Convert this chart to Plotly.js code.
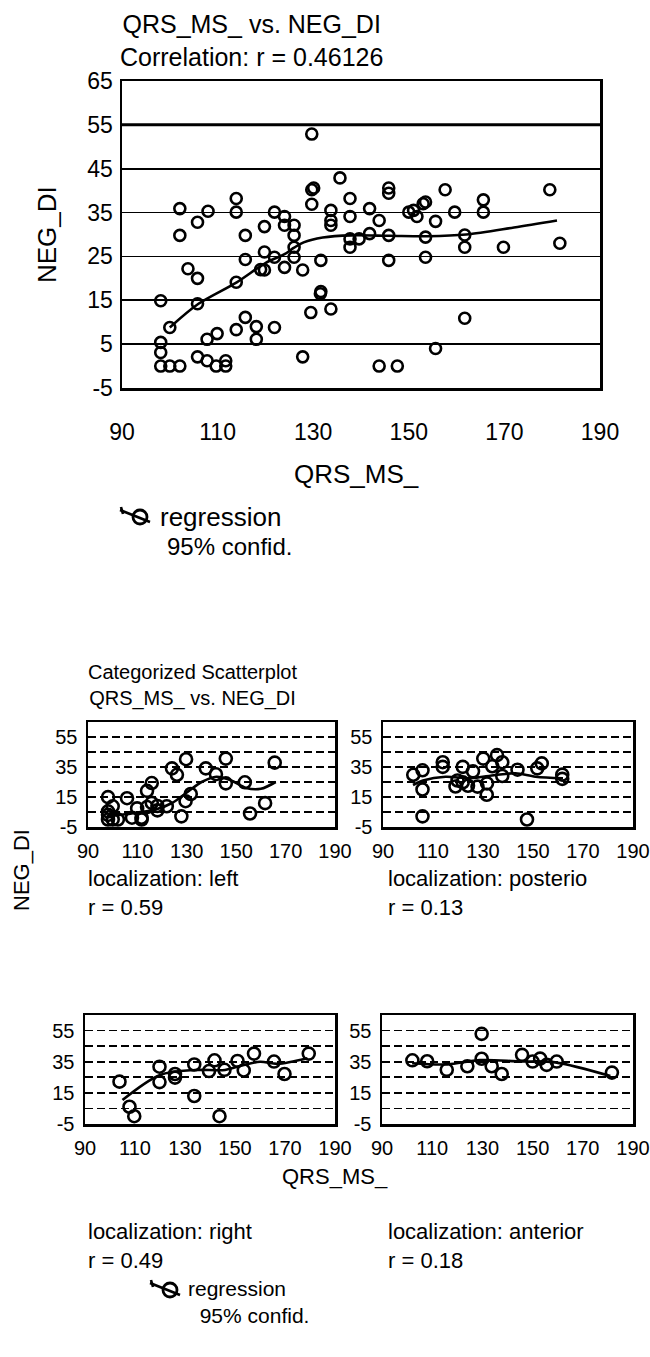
<!DOCTYPE html>
<html>
<head>
<meta charset="utf-8">
<script src="https://cdn.plot.ly/plotly-3.0.1.min.js"></script>
<style>html,body{margin:0;padding:0;background:#fff;}#chart{width:650px;height:1357px;}</style>
</head>
<body>
<div id="chart"></div>
<script>
// ---------- data ----------
const leftX = [98.1,100,98.1,98.1,98.1,100,102.1,105.8,107.8,109.9,111.7,111.7,113.9,113.9,115.8,115.8,118.1,118.1,121.9,124,126,127.8,129.5,129.7,131.6,137.7,141.8,145.8,145.8,153.5,155.6,161.7,165.6];
const leftY = [14.9,8.8,5.4,3.1,0,0,0,14.2,1.2,7.4,1.2,0,8.3,19.1,11.1,24.3,9.0,6.1,8.8,34.1,29.8,2.1,12.2,40.2,17,34.1,30.2,40.6,24.1,24.8,4.0,10.9,37.9];

const postX = [105.8,113.9,113.9,121.9,102.1,105.8,119.8,121.9,105.8,119,135.6,137.7,133.7,143.8,126,124,127.8,131.6,137.7,147.6,151.7,153.5,161.7,161.7,130.1,131.5];
const postY = [32.8,38.2,35.1,35.1,29.8,20.0,26.0,24.8,2.1,22,42.9,38.2,35.5,33.2,32.1,22.5,21.9,24.1,29.0,0,34.1,37.4,29.9,27.1,40.6,16.5];

const rightX = [103.8,107.8,109.7,119.8,119.8,126,126,133.7,133.7,139.6,141.8,143.8,145.8,151,153.5,157.6,165.6,169.8,179.5];
const rightY = [22.2,6.1,0,31.8,21.9,27.1,24.8,33.2,13.0,29.0,35.9,0,29.8,35.5,29.4,40.2,35.1,27.1,40.2];

const antX = [102.1,108,115.8,124,129.7,129.7,133.7,137.7,145.8,150,153,155.6,159.6,181.6];
const antY = [35.9,35.3,29.8,32.1,52.9,36.9,32.1,27.1,39.4,35.1,37,33.0,35.1,28.0];

// smoothed regression curves (vertices)
const allFitX = [100,106,114,120,124,126,128,132,138,146,154,162,172,181];
const allFitY = [8.8,14.2,19.1,23.5,25.5,27,28.2,29.3,29.8,29.7,29.6,30.0,31.6,33.2];
const leftFitX = [98,105,112,118,124,130,136,142,148,154,160,166];
const leftFitY = [2,3.5,5,7,11,18,25,28.5,26,21,20.5,25];
const postFitX = [102,106,115,125,135,143,151,162];
const postFitY = [23,26,28.5,27.5,29.7,30.8,28.5,27.5];
const rightFitX = [105,120,134,146,152,160,167,179];
const rightFitY = [10.4,26.5,29.7,29.7,32.2,35,33.6,37.2];
const antFitX = [102,116,129,145,159,181];
const antFitY = [34,33.3,36,35.2,34.6,25.8];

const xTicks = [90,110,130,150,170,190];
const yTicksMain = [-5,5,15,25,35,45,55,65];
const yTicksSmall = [-5,15,35,55];
const yMinorSmall = [5,25,45];
const heavyGrid = 55;

const mainTitle = ['QRS_MS_ vs. NEG_DI', 'Correlation: r = 0.46126'];
const catTitle = ['Categorized Scatterplot', 'QRS_MS_ vs. NEG_DI'];
const panelLabels = ['localization: left','localization: posterio','localization: right','localization: anterior'];
const panelR = ['r = 0.59','r = 0.13','r = 0.49','r = 0.18'];

// ---------- helpers ----------
const W = 650, H = 1357;
const X = p => p / W;
const Y = p => 1 - p / H;
const FONT = 'Liberation Sans, Arial, sans-serif';

const allX = leftX.concat(postX, rightX, antX);
const allY = leftY.concat(postY, rightY, antY);

function pts(x, y, xa, ya, sz){ return {type:'scatter', mode:'markers', x:x, y:y, xaxis:xa, yaxis:ya,
  marker:{symbol:'circle-open', size:sz, color:'#000', line:{width:2.6, color:'#000'}}, showlegend:false, hoverinfo:'skip'}; }
function fit(x, y, xa, ya){ return {type:'scatter', mode:'lines', x:x, y:y, xaxis:xa, yaxis:ya, line:{color:'#000', width:2.6, shape:'spline', smoothing:0.9}, showlegend:false, hoverinfo:'skip'}; }

const data = [
  fit(allFitX, allFitY, 'x', 'y'), pts(allX, allY, 'x', 'y', 11),
  fit(leftFitX, leftFitY, 'x2', 'y2'), pts(leftX, leftY, 'x2', 'y2', 12),
  fit(postFitX, postFitY, 'x3', 'y3'), pts(postX, postY, 'x3', 'y3', 12),
  fit(rightFitX, rightFitY, 'x4', 'y4'), pts(rightX, rightY, 'x4', 'y4', 12),
  fit(antFitX, antFitY, 'x5', 'y5'), pts(antX, antY, 'x5', 'y5', 12)
];

function xAxis(dom, anchor, size, standoff){
  return {domain:dom, anchor:anchor, range:[90,190], tickvals:xTicks, ticktext:xTicks.map(String),
    showgrid:false, zeroline:false, showline:true, mirror:true, linecolor:'#000', linewidth:2.5,
    ticks:'', ticklabelstandoff:standoff, tickfont:{family:FONT, size:size, color:'#000'}, fixedrange:true};
}
function yAxisMain(dom, anchor){
  return {domain:dom, anchor:anchor, range:[-5,65], tickvals:yTicksMain, ticktext:yTicksMain.map(String),
    showgrid:true, gridcolor:'#000', gridwidth:1.8, zeroline:false, showline:true, mirror:true,
    linecolor:'#000', linewidth:2.5, ticks:'', ticklabelstandoff:2, tickfont:{family:FONT, size:23, color:'#000'}, fixedrange:true};
}
function yAxisSmall(dom, anchor){
  return {domain:dom, anchor:anchor, range:[-5,65], tickvals:yTicksSmall, ticktext:yTicksSmall.map(String),
    showgrid:true, gridcolor:'#000', gridwidth:1.8, griddash:'8px,4px', zeroline:false, showline:true, mirror:true,
    linecolor:'#000', linewidth:2.5, ticks:'', ticklabelstandoff:4, tickfont:{family:FONT, size:20, color:'#000'},
    minor:{tickvals:yMinorSmall, showgrid:true, gridcolor:'#000', gridwidth:1.8, griddash:'8px,4px', ticks:''}, fixedrange:true};
}

const dMain = [Y(388), Y(81)];
const dTop = [Y(827), Y(722)];
const dBot = [Y(1124), Y(1015)];

const layout = {
  width:W, height:H, margin:{l:0,r:0,t:0,b:0}, paper_bgcolor:'#fff', plot_bgcolor:'#fff', showlegend:false,
  xaxis: xAxis([X(122), X(600)], 'y', 23, 22),
  yaxis: yAxisMain(dMain, 'x'),
  xaxis2: xAxis([X(88), X(335)], 'y2', 20, 4),
  yaxis2: yAxisSmall(dTop, 'x2'),
  xaxis3: xAxis([X(383), X(633)], 'y3', 20, 4),
  yaxis3: yAxisSmall(dTop, 'x3'),
  xaxis4: xAxis([X(85), X(335)], 'y4', 20, 4),
  yaxis4: yAxisSmall(dBot, 'x4'),
  xaxis5: xAxis([X(382), X(633)], 'y5', 20, 4),
  yaxis5: yAxisSmall(dBot, 'x5'),
  annotations: [],
  shapes: [
    // the heavier gridline of the main chart
    {type:'line', xref:'x domain', yref:'y', x0:0, x1:1, y0:heavyGrid, y1:heavyGrid, line:{color:'#000', width:3}, layer:'below'}
  ]
};

function txt(text, x, y, size, xanchor, angle, align){
  layout.annotations.push({text:text, x:X(x), y:Y(y), xref:'paper', yref:'paper', showarrow:false,
    xanchor:xanchor||'center', yanchor:'middle', align:align||'center', textangle:angle||0, font:{family:FONT, size:size, color:'#000'}});
}
function legendSymbol(x, y, r){
  // regression key: a short slanted line through an open circle
  layout.shapes.push({type:'line', xref:'paper', yref:'paper', x0:X(x), y0:Y(y-7), x1:X(x+2*r+16), y1:Y(y+5), line:{color:'#000', width:2.6}});
  layout.shapes.push({type:'line', xref:'paper', yref:'paper', x0:X(x+1), y0:Y(y-10), x1:X(x+3), y1:Y(y-3), line:{color:'#000', width:2.6}});
  layout.shapes.push({type:'circle', xref:'paper', yref:'paper', x0:X(x+13), y0:Y(y-r), x1:X(x+13+2*r), y1:Y(y+r), line:{color:'#000', width:2.8}});
}

// main chart texts
txt(mainTitle[0] + '<br>' + mainTitle[1], 251, 40, 25);
txt('NEG_DI', 47, 235, 26, 'center', -90);
txt('QRS_MS_', 356, 474, 26);
legendSymbol(120, 517, 7);
txt('regression', 158, 517, 26, 'left');
txt('95% confid.', 165, 546, 24, 'left');

// categorized chart texts
txt(catTitle[0] + '<br>' + catTitle[1], 192, 685, 20);
txt('NEG_DI', 22, 870, 22, 'center', -90);
txt(panelLabels[0] + '<br>' + panelR[0], 86, 893, 22, 'left', 0, 'left');
txt(panelLabels[1] + '<br>' + panelR[1], 386, 893, 22, 'left', 0, 'left');
txt('QRS_MS_', 335, 1176, 22);
txt(panelLabels[2] + '<br>' + panelR[2], 86, 1246, 22, 'left', 0, 'left');
txt(panelLabels[3] + '<br>' + panelR[3], 386, 1246, 22, 'left', 0, 'left');
legendSymbol(150, 1290, 7);
txt('regression<br>  95% confid.', 186, 1302, 21, 'left', 0, 'left');

Plotly.newPlot('chart', data, layout, {staticPlot:true, displayModeBar:false});
</script>
</body>
</html>
